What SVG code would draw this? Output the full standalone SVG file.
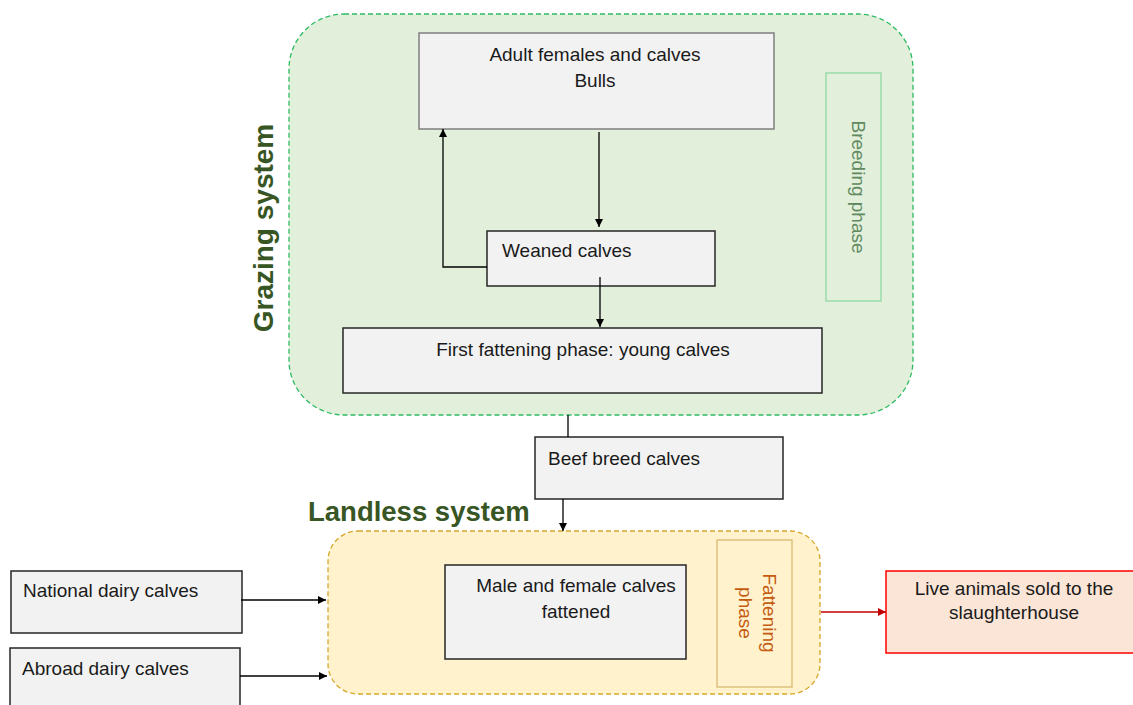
<svg xmlns="http://www.w3.org/2000/svg" width="1133" height="705" viewBox="0 0 1133 705">
<style>
text{font-family:"Liberation Sans",Arial,sans-serif;fill:#1a1a1a;font-size:19px}
.box{fill:#f2f2f2;stroke:#262626;stroke-width:1.5}
.conn{fill:none;stroke:#000;stroke-width:1.3}
.title{font-weight:bold;fill:#375623;font-size:27.5px}
</style>
<defs>
<marker id="ah" viewBox="0 0 10 10" refX="10" refY="5" markerWidth="8" markerHeight="8" markerUnits="userSpaceOnUse" orient="auto"><path d="M0,0L10,5L0,10z" fill="#000"/></marker>
<marker id="ahr" viewBox="0 0 10 10" refX="10" refY="5" markerWidth="8" markerHeight="8" markerUnits="userSpaceOnUse" orient="auto"><path d="M0,0L10,5L0,10z" fill="#c00000"/></marker>
</defs>
<rect width="1133" height="705" fill="#fff"/>
<g id="grazing">
<rect x="289" y="14" width="624" height="401" rx="55" fill="#e2efda" stroke="#2dbb63" stroke-width="1.3" stroke-dasharray="5,3"/>
<text class="title" transform="translate(273,228) rotate(-90)" text-anchor="middle" style="font-size:28px">Grazing system</text>
</g>
<g id="breeding">
<rect x="826" y="73" width="55" height="228" fill="none" stroke="#8fd7a3" stroke-width="1.3"/>
<text transform="translate(852,187) rotate(90)" text-anchor="middle" style="fill:#5f8a5f">Breeding phase</text>
</g>
<g id="landless">
<rect x="328" y="531" width="492" height="163" rx="30" fill="#fff2cc" stroke="#d6a72a" stroke-width="1.3" stroke-dasharray="5,3"/>
<text class="title" x="308" y="521">Landless system</text>
</g>
<g id="fattening">
<rect x="717" y="540" width="75" height="147" fill="#fff2cc" stroke="#d9b872" stroke-width="1.3"/>
<text transform="translate(763,613) rotate(90)" text-anchor="middle" style="fill:#c55a11">Fattening</text>
<text transform="translate(739,613) rotate(90)" text-anchor="middle" style="fill:#c55a11">phase</text>
</g>
<g id="adult">
<rect class="box" x="419" y="33" width="355" height="96" style="stroke:#7f7f7f"/>
<text x="595" y="61" text-anchor="middle">Adult females and calves</text>
<text x="595" y="87" text-anchor="middle">Bulls</text>
</g>
<g id="weaned">
<rect class="box" x="487" y="231" width="228" height="55"/>
<text x="502" y="257">Weaned calves</text>
</g>
<g id="first">
<rect class="box" x="343" y="328" width="479" height="65"/>
<text x="583" y="356" text-anchor="middle">First fattening phase: young calves</text>
</g>
<g id="beef">
<rect class="box" x="535" y="437" width="248" height="62"/>
<text x="548" y="465">Beef breed calves</text>
</g>
<g id="male">
<rect class="box" x="445" y="565" width="241" height="94"/>
<text x="576" y="592" text-anchor="middle">Male and female calves</text>
<text x="576" y="618" text-anchor="middle">fattened</text>
</g>
<g id="national">
<rect class="box" x="11" y="571" width="231" height="62"/>
<text x="23" y="597">National dairy calves</text>
</g>
<g id="abroad">
<rect class="box" x="10" y="648" width="230" height="62"/>
<text x="22" y="675">Abroad dairy calves</text>
</g>
<g id="live">
<rect x="886" y="571" width="252" height="82" fill="#fbe5d6" stroke="#ff0000" stroke-width="1.5"/>
<text x="1014" y="595" text-anchor="middle">Live animals sold to the</text>
<text x="1014" y="619" text-anchor="middle">slaughterhouse</text>
</g>
<g id="connectors">
<path class="conn" d="M599,132V227" marker-end="url(#ah)"/>
<path class="conn" d="M487,267H443V129" marker-end="url(#ah)"/>
<path class="conn" d="M600,277V327" marker-end="url(#ah)"/>
<path class="conn" d="M568,415V437"/>
<path class="conn" d="M563,499V531" marker-end="url(#ah)"/>
<path class="conn" d="M241,600H326" marker-end="url(#ah)"/>
<path class="conn" d="M240,676H327" marker-end="url(#ah)"/>
<path class="conn" d="M821,612H886" style="stroke:#c00000" marker-end="url(#ahr)"/>
</g>
</svg>
